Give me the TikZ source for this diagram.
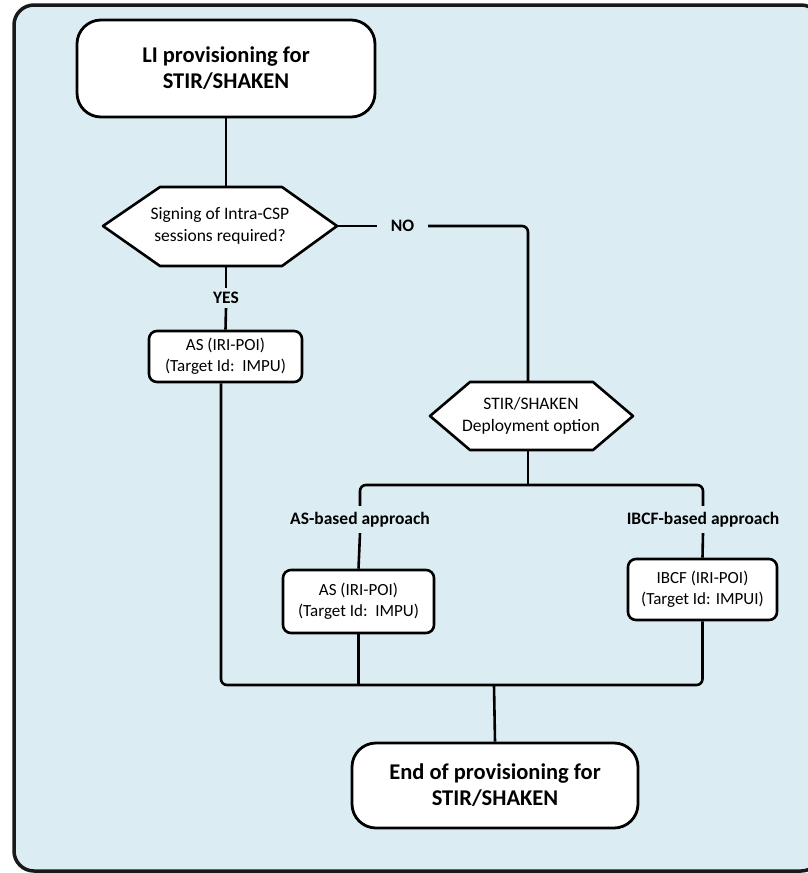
\documentclass[tikz,border=0pt]{standalone}
\usepackage{fontspec}
\setmainfont{Carlito}
\usetikzlibrary{calc}
\definecolor{bgblue}{RGB}{219,237,243}
\begin{document}
\begin{tikzpicture}[x=1pt,y=-1pt,
  bigbox/.style={draw, fill=white, rounded corners=24pt, line width=2.8pt, font=\fontsize{22.5}{26}\selectfont\bfseries, align=center, inner sep=0pt},
  smallbox/.style={draw, fill=white, rounded corners=8pt, line width=2.6pt, font=\fontsize{17}{21}\selectfont, align=center, inner sep=0pt},
  hexshape/.style={draw, fill=white, line width=2.6pt, line join=round},
  hextext/.style={font=\fontsize{17.5}{21.5}\selectfont, align=center, inner sep=0pt},
  lbl/.style={font=\fontsize{17.5}{20}\selectfont\bfseries, inner sep=0pt},
  conn/.style={line width=2.6pt, rounded corners=6pt}]
\useasboundingbox (0,0) rectangle (808,873);
\begin{scope}
  \clip (0,0) rectangle (808,873);
  \draw[fill=bgblue, line width=3.5pt, rounded corners=20pt, draw=black!90] (14,5) rectangle (821,871);
\end{scope}

% start
\node[bigbox, minimum width=298pt, minimum height=97pt] (start) at (226,68.5) {LI provisioning for\\STIR/SHAKEN};

% decision 1
\draw[hexshape] (103,226) -- (160,187) -- (282,187) -- (337,226) -- (282,266) -- (160,266) -- cycle;
\node[hextext] (d1) at (220,226) {Signing of Intra-CSP\\sessions required?};
\coordinate (d1n) at (226,187);
\coordinate (d1s) at (226,266);
\coordinate (d1e) at (337,226);

% yes branch
\node[lbl, minimum height=20pt] (yes) at (226,298) {YES};
\node[smallbox, minimum width=153pt, minimum height=51pt] (as1) at (225.5,356.5) {AS (IRI-POI)\\(Target Id:\ \ IMPU)};

% no branch
\node[lbl, minimum width=51pt] (no) at (402.5,226) {NO};

% decision 2
\draw[hexshape] (430,416) -- (470,382) -- (593,382) -- (633,416) -- (593,450) -- (470,450) -- cycle;
\node[hextext] (d2) at (531,416) {STIR/SHAKEN\\Deployment option};
\coordinate (d2n) at (528,382);
\coordinate (d2s) at (528,450);
\coordinate (split) at (528,485);

% approaches
\node[lbl, minimum height=27pt] (asl) at (360,519.5) {AS-based approach};
\node[lbl, minimum height=27pt] (ibl) at (703,519.5) {IBCF-based approach};
\node[smallbox, minimum width=151pt, minimum height=63pt] (as2) at (358.5,601.5) {AS (IRI-POI)\\(Target Id:\ \ IMPU)};
\node[smallbox, minimum width=149pt, minimum height=61pt] (ibcf) at (702.5,589.5) {IBCF (IRI-POI)\\(Target Id: IMPUI)};

% end
\node[bigbox, minimum width=286pt, minimum height=85pt] (end) at (495,785.5) {End of provisioning for\\STIR/SHAKEN};
\coordinate (join) at (494,685);

% connectors
\draw[conn] (start.south) -- (d1n);
\draw[conn] (d1s) -- (yes.north);
\draw[conn] (yes.south) -- (as1.north);
\draw[conn] (d1e) -- (no.west);
\draw[conn] (no.east) -| (d2n);
\draw[conn] (d2s) -- (split);
\draw[conn] (asl.north) |- (split) -| (ibl.north);
\draw[conn] (asl.south) -- (as2.north);
\draw[conn] (ibl.south) -- (ibcf.north);
\draw[conn] ([xshift=-4.5pt]as1.south) |- (join) -| (ibcf.south);
\draw[conn] (as2.south) -- (as2.south |- join);
\draw[conn] (join) -- (end.north);
\end{tikzpicture}
\end{document}
